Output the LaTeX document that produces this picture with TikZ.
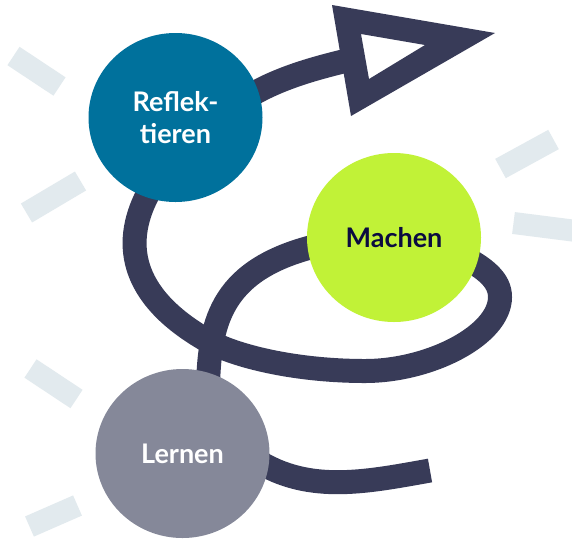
\documentclass[tikz,border=0pt]{standalone}
\usepackage{fontspec}
\usetikzlibrary{shapes.geometric}
\setmainfont{Lato}
\definecolor{navy}{HTML}{383B58}
\definecolor{teal}{HTML}{00719C}
\definecolor{lime}{HTML}{C1F237}
\definecolor{greyc}{HTML}{858899}
\definecolor{dash}{HTML}{E2EAEE}
\definecolor{ink}{HTML}{0B0B40}
\tikzset{x=1pt,y=-1pt,
 band/.style={draw=navy,line width=24pt},
 tick/.style={draw=dash,line width=22pt},
 disc/.style={ellipse,minimum width=174pt,minimum height=169pt,inner sep=0pt,font=\bfseries\fontsize{27pt}{32pt}\selectfont,align=center}}
\begin{document}
\begin{tikzpicture}
\useasboundingbox (0,0) rectangle (572,539);
\fill[white] (0,0) rectangle (572,539);
\coordinate (t1a) at (13.5,56); \coordinate (t1b) at (59.5,86.5);
\coordinate (t2a) at (26.5,213); \coordinate (t2b) at (80.5,181);
\coordinate (t3a) at (30.5,368.5); \coordinate (t3b) at (76.5,399);
\coordinate (t4a) at (29.5,526.5); \coordinate (t4b) at (77.5,505.5);
\coordinate (t5a) at (500.5,168.5); \coordinate (t5b) at (553.5,139.5);
\coordinate (t6a) at (513.5,223); \coordinate (t6b) at (574,230.7);
\foreach \a/\b in {t1a/t1b,t2a/t2b,t3a/t3b,t4a/t4b,t5a/t5b,t6a/t6b}\draw[tick] (\a)--(\b);
\coordinate (rc) at (175.5,117.5);
\coordinate (mc) at (394,237.5);
\coordinate (lc) at (182.5,453.5);
\coordinate (tipback) at (345,61);
\coordinate (lstart) at (250,456);
\draw[band] (240,102) .. controls (272,80) and (312,69) .. (tipback);
\fill[navy,even odd rule] (332,5) -- (495,33) -- (351,116) -- cycle (361,34) -- (425,45) -- (369,79) -- cycle;
\draw[band] (150,190) .. controls (122,240) and (127,295) .. (208,341) .. controls (240,358) and (300,371) .. (365,371) .. controls (430,371) and (500,335) .. (500,297) .. controls (500,280) and (485,268) .. (460,255);
\draw[band] (208,385) .. controls (210,320) and (222,268) .. (320,245);
\draw[band] (lstart) .. controls (305,495) and (365,482) .. (430,470.5);
\node[disc,fill=teal,text=white] (r) at (rc) {Reflek-\\tieren};
\node[disc,fill=lime,text=ink] (m) at (mc) {Machen};
\node[disc,fill=greyc,text=white] (l) at (lc) {Lernen};
\end{tikzpicture}
\end{document}
